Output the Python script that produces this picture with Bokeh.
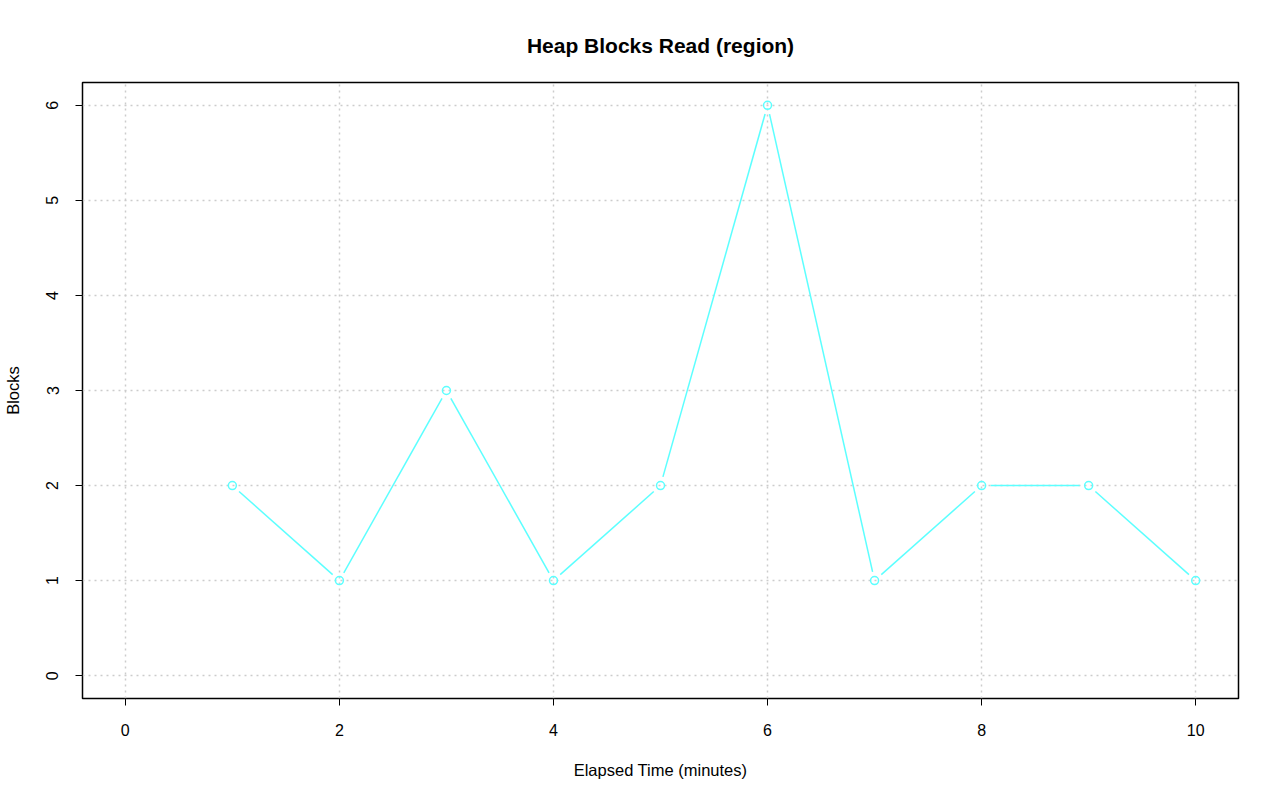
import numpy as np
from bokeh.plotting import figure
from bokeh.models import Range1d, FixedTicker, Title
from bokeh.embed import file_html
from bokeh.resources import INLINE

# Data
minutes = [1, 2, 3, 4, 5, 6, 7, 8, 9, 10]
blocks = [2, 1, 3, 1, 2, 6, 1, 2, 2, 1]
x_ticks = [0, 2, 4, 6, 8, 10]
y_ticks = [0, 1, 2, 3, 4, 5, 6]

W, H = 1264, 785
LEFT, RIGHT, TOP, BOTTOM = 78, 30, 82, 87
FW, FH = W - LEFT - RIGHT, H - TOP - BOTTOM

x0, x1 = -0.4, 10.4
y0, y1 = -0.24, 6.24
FONT = "Liberation Sans"
LINE = "#5CFFFF"

p = figure(width=W, height=H, output_backend="svg", toolbar_location=None,
           x_range=Range1d(x0, x1), y_range=Range1d(y0, y1),
           min_border_left=LEFT, min_border_right=RIGHT,
           min_border_top=TOP, min_border_bottom=BOTTOM)
p.frame_width = FW
p.frame_height = FH

p.title = Title(text="Heap Blocks Read (region)", align="center",
                text_font=FONT, text_font_size="21px", text_font_style="bold",
                text_color="black", offset=0)
p.title.standoff = 52

p.outline_line_color = "black"
p.outline_line_width = 1.5
p.outline_line_alpha = 1.0

for ax in (p.xaxis[0], p.yaxis[0]):
    ax.axis_line_color = None
    ax.major_tick_line_color = "black"
    ax.major_tick_line_width = 1
    ax.major_tick_out = 7
    ax.major_tick_in = 0
    ax.minor_tick_line_color = None
    ax.major_label_text_font = FONT
    ax.major_label_text_font_size = "16px"
    ax.major_label_text_color = "black"
    ax.axis_label_text_font = FONT
    ax.axis_label_text_font_size = "16.5px"
    ax.axis_label_text_font_style = "normal"
    ax.axis_label_text_color = "black"

p.xaxis.ticker = FixedTicker(ticks=x_ticks)
p.yaxis.ticker = FixedTicker(ticks=y_ticks)
p.xaxis.axis_label = "Elapsed Time (minutes)"
p.yaxis.axis_label = "Blocks"
p.xaxis.major_label_standoff = 18
p.yaxis.major_label_standoff = 17
p.xaxis.axis_label_standoff = 22
p.yaxis.axis_label_standoff = 22
p.yaxis.major_label_orientation = "vertical"

p.xgrid.grid_line_color = "#cccccc"
p.ygrid.grid_line_color = "#cccccc"
p.xgrid.grid_line_dash = "2 4"
p.ygrid.grid_line_dash = "2 4"
p.xgrid.grid_line_width = 1.5
p.ygrid.grid_line_width = 1.5

# Line segments with gaps around points (R type="b")
sx = FW / (x1 - x0)
sy = FH / (y1 - y0)
gap = 9.0
xs0, ys0, xs1, ys1 = [], [], [], []
for i in range(len(minutes) - 1):
    ax_, ay_ = minutes[i], blocks[i]
    bx_, by_ = minutes[i + 1], blocks[i + 1]
    dxp, dyp = (bx_ - ax_) * sx, (by_ - ay_) * sy
    L = np.hypot(dxp, dyp)
    if L <= 2 * gap:
        continue
    f = gap / L
    xs0.append(ax_ + (bx_ - ax_) * f)
    ys0.append(ay_ + (by_ - ay_) * f)
    xs1.append(bx_ - (bx_ - ax_) * f)
    ys1.append(by_ - (by_ - ay_) * f)

p.segment(x0=xs0, y0=ys0, x1=xs1, y1=ys1, line_color=LINE, line_width=1.5)
p.scatter(minutes, blocks, marker="circle", size=8, fill_color=None,
          line_color=LINE, line_width=1.5)

open("out.html", "w").write(file_html(p, INLINE))
